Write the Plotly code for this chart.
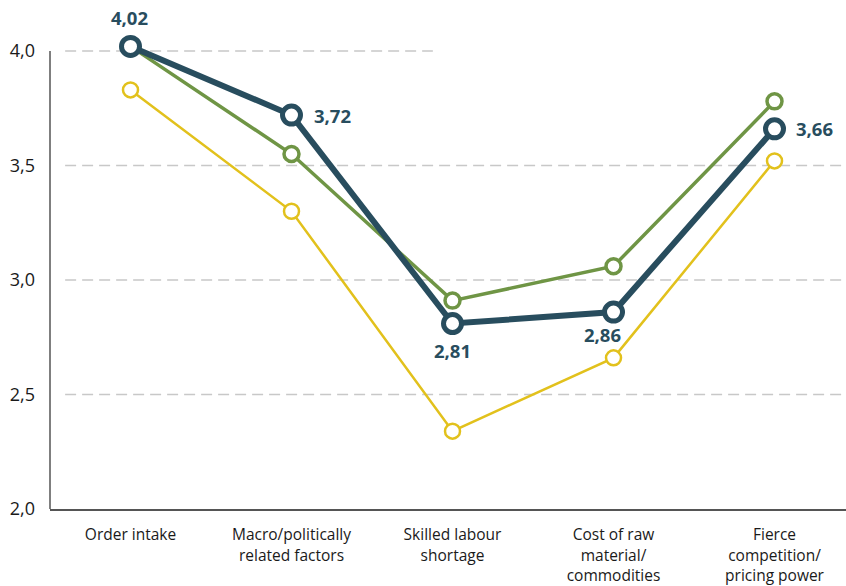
import plotly.graph_objects as go

# Categories along the x axis (line breaks as printed under the axis)
categories = [
    "Order intake",
    "Macro/politically<br>related factors",
    "Skilled labour<br>shortage",
    "Cost of raw<br>material/<br>commodities",
    "Fierce<br>competition/<br>pricing power",
]

# Average scores per series
main_scores = [4.02, 3.72, 2.81, 2.86, 3.66]
green_scores = [4.02, 3.55, 2.91, 3.06, 3.78]
yellow_scores = [3.83, 3.30, 2.34, 2.66, 3.52]

y_ticks = [2.0, 2.5, 3.0, 3.5, 4.0]

DARK = "#284d5e"
GREEN = "#6f9545"
YELLOW = "#e2c11c"
TEXT = "#1a1a1a"
GRID = "#c8c8c8"
AXIS = "#555555"
FONT = "Open Sans"

x_idx = list(range(len(categories)))

fig = go.Figure()

fig.add_trace(go.Scatter(
    x=x_idx, y=yellow_scores, mode="lines+markers",
    line=dict(color=YELLOW, width=2.5),
    marker=dict(size=15, color="white", line=dict(color=YELLOW, width=2.5)),
    cliponaxis=False, showlegend=False, hoverinfo="skip",
))
fig.add_trace(go.Scatter(
    x=x_idx, y=green_scores, mode="lines+markers",
    line=dict(color=GREEN, width=3.5),
    marker=dict(size=15, color="white", line=dict(color=GREEN, width=3.5)),
    cliponaxis=False, showlegend=False, hoverinfo="skip",
))
fig.add_trace(go.Scatter(
    x=x_idx, y=main_scores, mode="lines+markers",
    line=dict(color=DARK, width=6),
    marker=dict(size=18, color="white", line=dict(color=DARK, width=5)),
    cliponaxis=False, showlegend=False, hoverinfo="skip",
))

# Value labels for the main series
label_offsets = [
    dict(xanchor="center", yanchor="middle", xshift=-1, yshift=29),
    dict(xanchor="left", yanchor="middle", xshift=20, yshift=0),
    dict(xanchor="center", yanchor="middle", xshift=0, yshift=-27),
    dict(xanchor="center", yanchor="middle", xshift=-11, yshift=-22),
    dict(xanchor="left", yanchor="middle", xshift=19, yshift=0),
]
for i, v in enumerate(main_scores):
    fig.add_annotation(
        x=i, y=v, text=f"{v:.2f}".replace(".", ","), showarrow=False,
        font=dict(family=FONT, size=18.5, color=DARK, weight="bold"),
        **label_offsets[i],
    )

# Dashed horizontal gridlines
for t in y_ticks[1:]:
    fig.add_shape(
        type="line", xref="paper", yref="y",
        x0=0.019, x1=0.481 if t == 4.0 else 1.0, y0=t, y1=t,
        line=dict(color=GRID, width=1.5, dash="11px,6px"), layer="below",
    )

# Vertical axis line spanning the tick range only
fig.add_shape(
    type="line", xref="paper", yref="y",
    x0=0, x1=0, y0=y_ticks[0], y1=y_ticks[-1],
    line=dict(color=AXIS, width=1.5), layer="above",
)

fig.update_layout(
    width=846, height=586,
    margin=dict(l=50, r=0, t=40, b=75),
    paper_bgcolor="white", plot_bgcolor="white",
    separators=",.",
    font=dict(family=FONT, color=TEXT),
    xaxis=dict(
        range=[-0.5, 4.444], tickmode="array", tickvals=x_idx, ticktext=categories,
        showgrid=False, zeroline=False, showline=True, linecolor=AXIS, linewidth=1.5,
        tickfont=dict(family=FONT, size=15.5, color=TEXT, weight=500), ticks="",
        ticklabelstandoff=11,
    ),
    yaxis=dict(
        range=[2.0, 4.048], tickmode="array", tickvals=y_ticks, tickformat=".1f",
        showgrid=False, zeroline=False, showline=False,
        tickfont=dict(family=FONT, size=18, color=TEXT, weight=500), ticks="",
        ticklabelstandoff=14,
    ),
)

fig.write_html("out.html")
